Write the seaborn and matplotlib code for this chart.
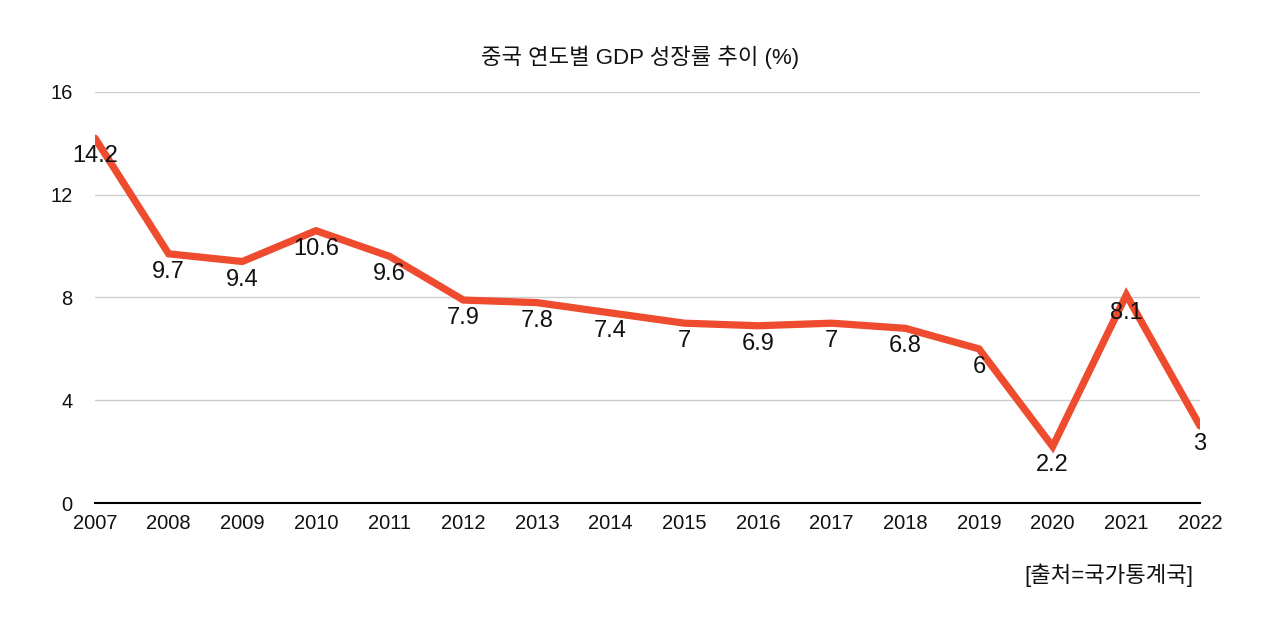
import matplotlib
matplotlib.use("Agg")
import matplotlib.pyplot as plt
import seaborn as sns
import pandas as pd

years = [2007, 2008, 2009, 2010, 2011, 2012, 2013, 2014, 2015,
         2016, 2017, 2018, 2019, 2020, 2021, 2022]
growth = [14.2, 9.7, 9.4, 10.6, 9.6, 7.9, 7.8, 7.4, 7.0,
          6.9, 7.0, 6.8, 6.0, 2.2, 8.1, 3.0]
y_ticks = [0, 4, 8, 12, 16]
title = "중국 연도별 GDP 성장률 추이 (%)"
source = "[출처=국가통계국]"

df = pd.DataFrame({"year": years, "growth": growth})

sns.set_theme(style="white")
plt.rcParams["font.family"] = ["Liberation Sans", "Noto Sans CJK KR", "DejaVu Sans"]

fig = plt.figure(figsize=(12.8, 6.17), dpi=100)
ax = fig.add_axes([0.0742, 0.1847, 0.8633, 0.6663])

sns.lineplot(data=df, x="year", y="growth", ax=ax, color="#EE4B2F",
             linewidth=5.2, solid_joinstyle="miter", zorder=3)

# value labels sit just under each point
for x, y in zip(years, growth):
    ax.annotate(f"{y:g}", (x, y), xytext=(0, -13), textcoords="offset points",
                ha="center", va="center", fontsize=17, color="#111111", zorder=4)

ax.set_xlim(years[0], years[-1])
ax.set_ylim(0, 16)
ax.set_yticks(y_ticks)
ax.set_xticks(years)
ax.set_xticklabels([str(y) for y in years])
ax.yaxis.grid(True, color="#cccccc", linewidth=1)
ax.xaxis.grid(False)
for side in ["top", "right", "left"]:
    ax.spines[side].set_visible(False)
ax.spines["bottom"].set_color("black")
ax.spines["bottom"].set_linewidth(1.5)
ax.tick_params(axis="both", length=0, labelsize=14.5, colors="#111111")
ax.tick_params(axis="x", pad=8)
ax.tick_params(axis="y", pad=16)
ax.set_xlabel("")
ax.set_ylabel("")

fig.text(0.5, 0.908, title, ha="center", va="center", fontsize=16, color="#111111")
fig.text(0.932, 0.068, source, ha="right", va="center", fontsize=16, color="#111111")

fig.savefig("out.png", dpi=100, facecolor="white")
